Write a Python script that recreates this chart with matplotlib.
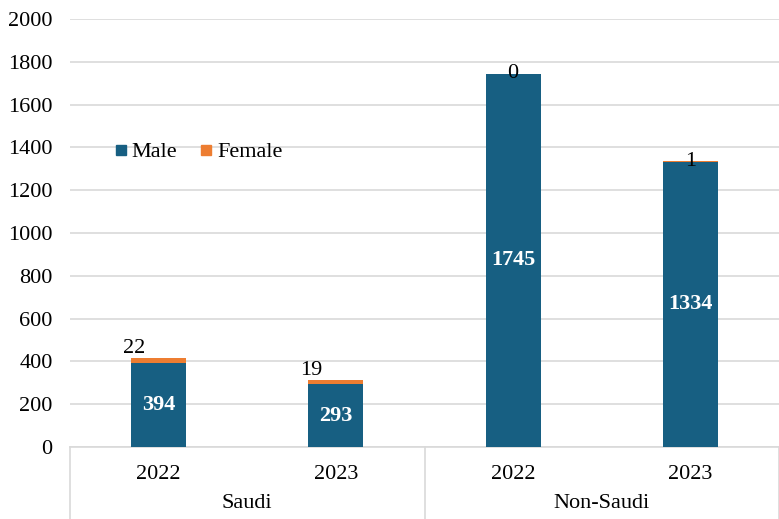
import matplotlib
matplotlib.use("Agg")
import matplotlib.pyplot as plt
from matplotlib.lines import Line2D
import numpy as np

groups = ["Saudi", "Non-Saudi"]
years = ["2022", "2023", "2022", "2023"]
male = [394, 293, 1745, 1334]
female = [22, 19, 0, 1]
yticks = [0, 200, 400, 600, 800, 1000, 1200, 1400, 1600, 1800, 2000]

BLUE = "#175f82"
ORANGE = "#ed7d31"
GRID = "#d9d9d9"
FONT = "Liberation Serif"
FS = 16

plt.rcParams["font.family"] = [FONT, "DejaVu Serif"]

fig = plt.figure(figsize=(7.79, 5.19), dpi=100)
ax = fig.add_axes([70 / 779, 72 / 519, 709 / 779, 428 / 519])

x = np.arange(len(male))
w = 0.31
ax.bar(x, male, width=w, color=BLUE, zorder=3)
ax.bar(x, female, width=w, bottom=male, color=ORANGE, zorder=3)

ax.set_xlim(-0.5, len(male) - 0.5)
ax.set_ylim(0, 2000)
ax.set_yticks(yticks)
ax.set_yticklabels([str(t) for t in yticks], fontsize=FS)
ax.tick_params(axis="y", length=0, pad=12.5)
ax.set_xticks([])
for s in ["left", "right", "top"]:
    ax.spines[s].set_visible(False)
ax.spines["bottom"].set_color(GRID)
ax.spines["bottom"].set_linewidth(1.2)
ax.yaxis.grid(True, color=GRID, linewidth=1.2, zorder=0)
ax.set_axisbelow(True)

# value labels
for i in range(len(male)):
    ax.text(x[i], male[i] / 2, str(male[i]), ha="center", va="center",
            color="white", fontweight="bold", fontsize=FS, zorder=5)
    top = male[i] + female[i]
    if i < 2:
        ax.annotate(str(female[i]), (x[i], top), xytext=(-18, 0),
                    textcoords="offset points", ha="center", va="bottom",
                    fontsize=FS, color="black", zorder=5)
    else:
        ax.text(x[i], top, str(female[i]), ha="center", va="center",
                fontsize=FS, color="black", zorder=5)

# multi-level x axis
trans = ax.get_xaxis_transform()
for i, yr in enumerate(years):
    ax.text(x[i], -0.065, yr, transform=trans, ha="center", va="center",
            fontsize=FS, clip_on=False)
for g, name in enumerate(groups):
    ax.text(2 * g + 0.5, -0.133, name, transform=trans, ha="center",
            va="center", fontsize=FS, clip_on=False)
for xd in [-0.5, 1.5, 3.5]:
    ax.add_line(Line2D([xd, xd], [0, -0.2], transform=trans, color=GRID,
                       linewidth=1.2, clip_on=False))

handles = [Line2D([], [], marker="s", linestyle="none", color=BLUE, markersize=7.5),
           Line2D([], [], marker="s", linestyle="none", color=ORANGE, markersize=7.5)]
ax.legend(handles, ["Male", "Female"], loc="center left",
          bbox_to_anchor=(0.04, 0.689), ncol=2, frameon=False,
          fontsize=FS, handletextpad=0.0, columnspacing=0.8,
          handlelength=1.0, borderpad=0)

fig.savefig("out.png", dpi=100)
